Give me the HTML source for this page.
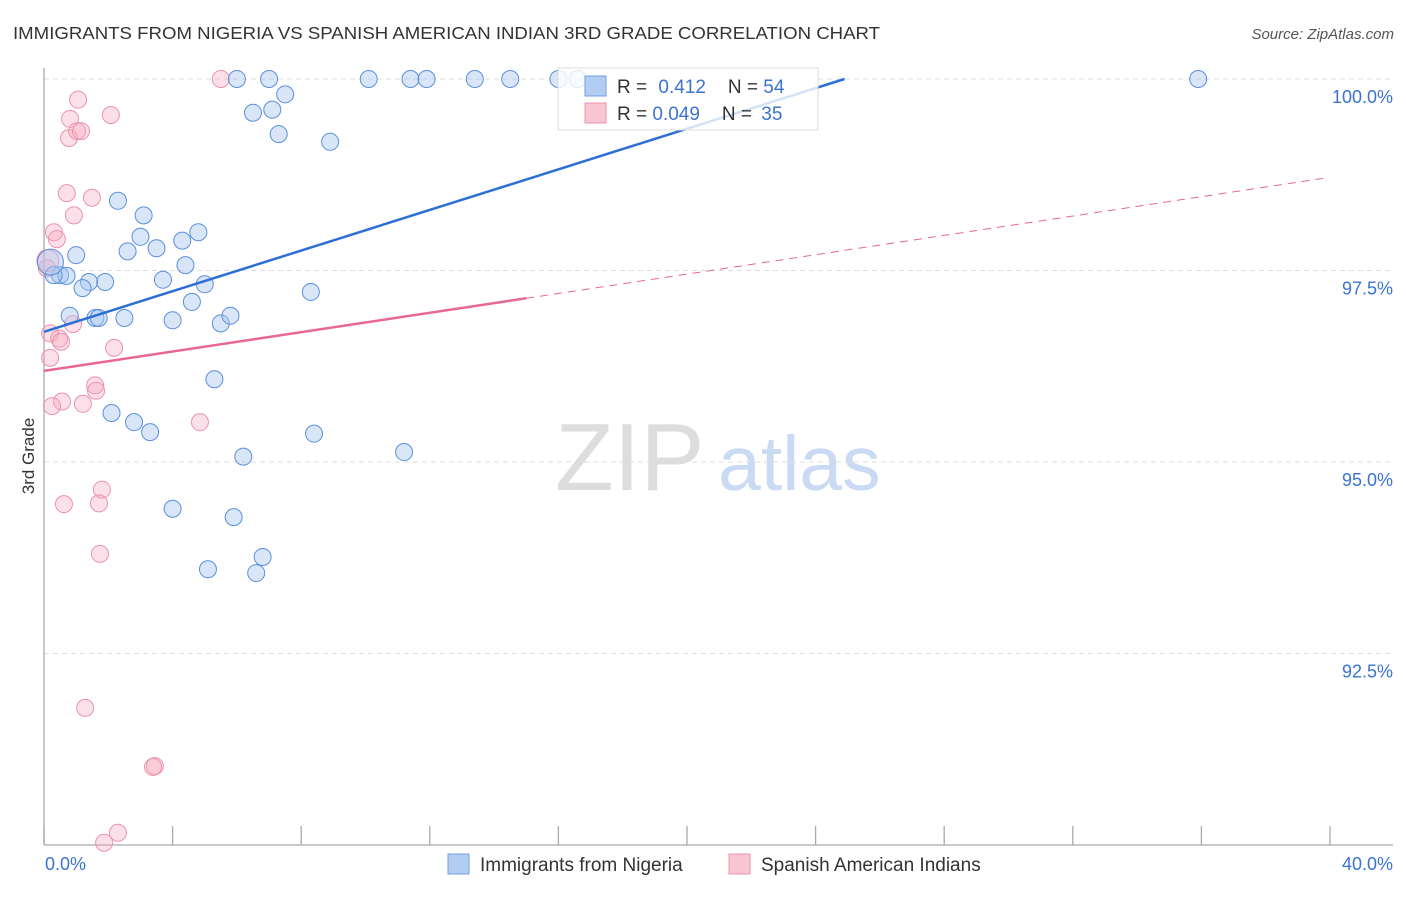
<!DOCTYPE html>
<html><head><meta charset="utf-8"><style>
body{margin:0;background:#fff;font-family:"Liberation Sans",sans-serif;}
svg text{font-family:"Liberation Sans",sans-serif;}
</style></head><body>
<svg id="chart" width="1406" height="892" xmlns="http://www.w3.org/2000/svg">
<text x="13" y="39" font-size="17.5" fill="#333" textLength="867" lengthAdjust="spacingAndGlyphs">IMMIGRANTS FROM NIGERIA VS SPANISH AMERICAN INDIAN 3RD GRADE CORRELATION CHART</text>
<text x="1394" y="39" font-size="15" fill="#555" font-style="italic" text-anchor="end">Source: ZipAtlas.com</text>
<text x="0" y="0" font-size="17" fill="#333" transform="translate(34,456) rotate(-90)" text-anchor="middle">3rd Grade</text>
<text x="555" y="490" font-size="96" fill="#ddd" font-family="Liberation Serif">ZIP</text>
<text x="718" y="490" font-size="77" fill="#c9daf2">atlas</text>
<g id="grid"></g><g id="axes"></g><g id="pts"></g><g id="trend"></g>
<g>
<rect x="558" y="68" width="260" height="62" fill="#fff" fill-opacity="0.8" stroke="#ddd"/>
<rect x="585" y="76" width="21" height="20" fill="#b3cdf2" stroke="#6f9fe0"/>
<rect x="585" y="103" width="21" height="20" fill="#f8c5d3" stroke="#eb93ad"/>
<text x="617" y="93" font-size="19" fill="#333">R = <tspan fill="#3b73d1" dx="6">0.412</tspan><tspan dx="22" fill="#333">N = </tspan><tspan fill="#3b73d1">54</tspan></text>
<text x="617" y="120" font-size="19" fill="#333">R = <tspan fill="#3b73d1">0.049</tspan><tspan dx="22" fill="#333">N = </tspan><tspan fill="#3b73d1" dx="4">35</tspan></text>
</g>
<g>
<rect x="448" y="854" width="21" height="20" fill="#b3cdf2" stroke="#6f9fe0"/>
<text x="480" y="871" font-size="19" fill="#333">Immigrants from Nigeria</text>
<rect x="729" y="854" width="21" height="20" fill="#f8c5d3" stroke="#eb93ad"/>
<text x="761" y="871" font-size="19" fill="#333">Spanish American Indians</text>
</g>
</svg>
<script>
const yTicks=[100,97.5,95,92.5];
const yTickLabels=["100.0%","97.5%","95.0%","92.5%"];
const xTicks=[0,4,8,12,16,20,24,28,32,36,40];
const blueX=[6.0,7.0,10.1,11.4,11.9,13.4,14.5,16.0,16.6,35.9,7.5,6.5,7.1,7.3,8.9,2.3,3.1,3.0,4.3,4.8,2.6,3.5,1.0,4.4,3.7,5.0,1.9,1.4,1.2,0.5,0.7,4.6,8.3,0.3,0.8,1.6,1.7,2.5,4.0,5.5,5.8,5.3,2.1,2.8,3.3,8.4,11.2,6.2,4.0,5.9,6.8,5.1,6.6,0.2];
const blueY=[100,100,100,100,100,100,100,100,100,100,99.80,99.56,99.60,99.28,99.18,98.41,98.22,97.94,97.89,98.00,97.75,97.79,97.70,97.57,97.38,97.32,97.35,97.35,97.27,97.44,97.43,97.09,97.22,97.44,96.91,96.88,96.88,96.88,96.85,96.81,96.91,96.08,95.64,95.52,95.39,95.37,95.13,95.07,94.39,94.28,93.76,93.60,93.55,97.61];
const pinkX=[5.5,1.06,2.08,0.81,0.78,1.03,1.15,0.71,1.49,0.93,0.31,0.4,0.09,0.19,0.47,0.53,0.9,2.18,0.19,1.59,1.62,0.56,0.25,1.21,4.85,1.8,1.71,0.62,1.74,1.28,3.45,3.39,2.3,1.87,0.12];
const pinkY=[100,99.73,99.53,99.48,99.23,99.32,99.32,98.51,98.45,98.22,98.0,97.91,97.53,96.68,96.61,96.57,96.8,96.49,96.36,96.0,95.93,95.79,95.73,95.76,95.52,94.64,94.46,94.45,93.8,91.79,91.03,91.02,90.16,90.03,97.63];
const trendBlue=[96.7,100.0];
const trendPink=[96.19,98.71];
const NS='http://www.w3.org/2000/svg';
const X=v=>44+v*32.15, Y=v=>79+(100-v)*76.6;
function mk(parent,tag,attrs){const e=document.createElementNS(NS,tag);for(const k in attrs)e.setAttribute(k,attrs[k]);document.getElementById(parent).appendChild(e);return e;}
yTicks.forEach((t,i)=>{
 const g=mk('grid','line',{x1:44,x2:1393,y1:Y(t),y2:Y(t),stroke:'#ddd','stroke-dasharray':'5,4'});
 
 
 const l=mk('axes','text',{x:1393,y:Y(t)+24,'font-size':18,fill:'#3b73d1','text-anchor':'end'});
 l.textContent=yTickLabels[i];
 
 
});
const ax=mk('axes','line',{x1:44,x2:1393,y1:845,y2:845,stroke:'#aaa','stroke-width':1.3});


const ay=mk('axes','line',{x1:44,x2:44,y1:68,y2:845,stroke:'#aaa','stroke-width':1.3});


xTicks.forEach(t=>{const tk=mk('axes','line',{x1:X(t),x2:X(t),y1:826,y2:845,stroke:'#aaa','stroke-width':1.3});
 
 });
const x0=mk('axes','text',{x:45,y:870,'font-size':18,fill:'#3b73d1'});x0.textContent='0.0%';


const x1=mk('axes','text',{x:1393,y:870,'font-size':18,fill:'#3b73d1','text-anchor':'end'});x1.textContent='40.0%';


pinkX.forEach((v,i)=>{const r=i===pinkX.length-1?11:8.5;const c=mk('pts','circle',{cx:X(v),cy:Y(pinkY[i]),r:r,fill:'#f5a6bf','fill-opacity':0.35,stroke:'#eb93ad','stroke-width':1});
 
 });
blueX.forEach((v,i)=>{const r=i===blueX.length-1?13:8.5;const c=mk('pts','circle',{cx:X(v),cy:Y(blueY[i]),r:r,fill:'#a9c7f0','fill-opacity':0.45,stroke:'#5b8fdc','stroke-width':1});
 
 });
const tb=mk('trend','line',{x1:X(0),y1:Y(trendBlue[0]),x2:X(24.9),y2:Y(trendBlue[1]),stroke:'#2e6fd6','stroke-width':2.5});


const pAt=x=>trendPink[0]+(trendPink[1]-trendPink[0])*x/39.9;
const tp=mk('trend','line',{x1:X(0),y1:Y(pAt(0)),x2:X(15),y2:Y(pAt(15)),stroke:'#e8688f','stroke-width':2.5});


const td=mk('trend','line',{x1:X(15),y1:Y(pAt(15)),x2:X(39.9),y2:Y(pAt(39.9)),stroke:'#e8688f','stroke-width':1,'stroke-dasharray':'8,6'});


</script>
</body></html>
